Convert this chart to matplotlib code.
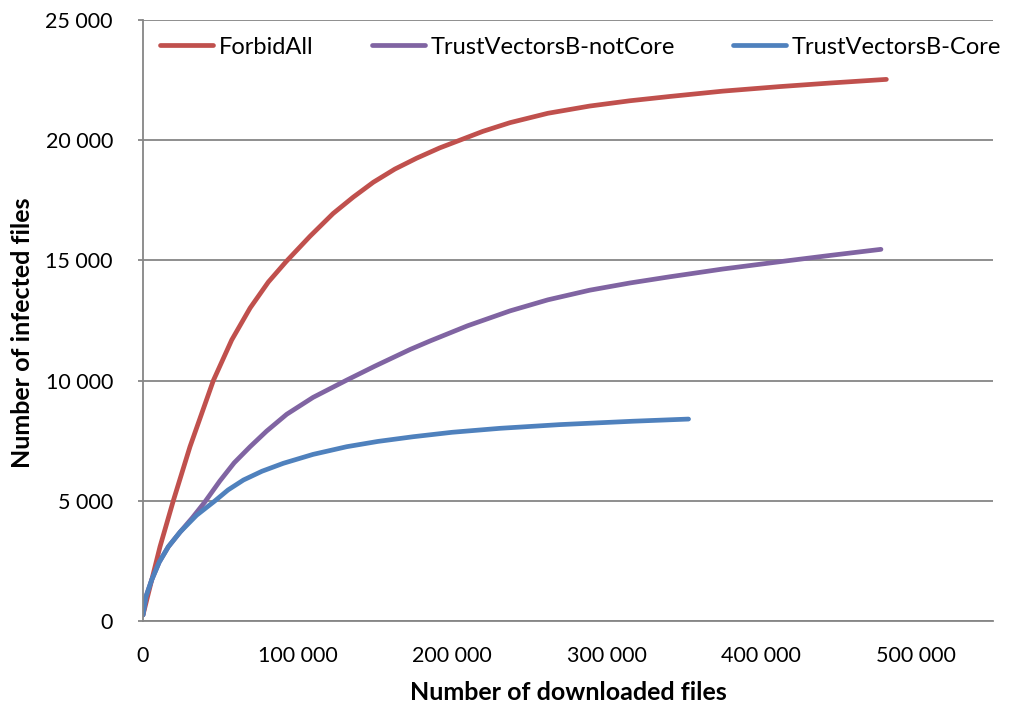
import matplotlib
matplotlib.use("Agg")
from matplotlib import pyplot as plt
from matplotlib.ticker import FuncFormatter

## data
forbid_x = [0, 11000, 19600, 30400, 45500, 57400, 69300, 81100, 92600, 108000, 123000,
            136000, 149000, 163000, 177000, 192000, 205000, 220000, 237500, 262000,
            289000, 315000, 341000, 375000, 412000, 445000, 481000]
forbid_y = [250, 3090, 5000, 7250, 10000, 11690, 13020, 14100, 14950, 16000, 16950,
            17630, 18250, 18800, 19250, 19680, 20000, 20370, 20730, 21120,
            21420, 21640, 21820, 22040, 22230, 22380, 22530]

notcore_x = [0, 1900, 5600, 10500, 16400, 24000, 32000, 40000, 49800, 59000, 69300,
             80000, 93000, 110000, 131800, 150000, 173000, 185800, 210000, 237500,
             262000, 289000, 315000, 341000, 375000, 412000, 445000, 477500]
notcore_y = [250, 1010, 1705, 2450, 3090, 3700, 4300, 4950, 5830, 6580, 7250,
             7900, 8600, 9300, 10020, 10600, 11300, 11650, 12280, 12900,
             13360, 13760, 14060, 14320, 14640, 14945, 15210, 15460]

core_x = [0, 1900, 5600, 10500, 16400, 24000, 34700, 46600, 55000, 65000, 77000,
          90800, 110000, 131800, 152000, 174800, 200000, 231000, 270000, 317000, 353000]
core_y = [250, 1010, 1705, 2450, 3090, 3700, 4400, 5000, 5450, 5865, 6230,
          6560, 6930, 7250, 7470, 7665, 7850, 8015, 8170, 8310, 8400]

series_names = ['ForbidAll', 'TrustVectorsB-notCore', 'TrustVectorsB-Core']
series_colors = ['#C0504D', '#8064A2', '#4F81BD']

x_ticks = [0, 100000, 200000, 300000, 400000, 500000]
y_ticks = [0, 5000, 10000, 15000, 20000, 25000]

plt.rcParams['font.family'] = ['Lato', 'DejaVu Sans']
grid_gray = '#868686'

fig = plt.figure(figsize=(10.12, 7.11), dpi=100)
ax = fig.add_axes([143/1012, 90/711, 850/1012, 601/711])

for xs, ys, name, col in zip([forbid_x, notcore_x, core_x],
                             [forbid_y, notcore_y, core_y],
                             series_names, series_colors):
    ax.plot(xs, ys, color=col, lw=3.4, label=name, solid_capstyle='round',
            solid_joinstyle='round')

ax.set_xlim(0, 550000)
ax.set_ylim(0, 25000)
ax.set_xticks(x_ticks)
ax.set_yticks(y_ticks)
fmt = FuncFormatter(lambda v, p: '{:,}'.format(int(v)).replace(',', ' '))
ax.xaxis.set_major_formatter(fmt)
ax.yaxis.set_major_formatter(fmt)

ax.grid(axis='y', color=grid_gray, lw=1.3)
ax.set_axisbelow(True)
for s in ['top', 'right']:
    ax.spines[s].set_visible(False)
for s in ['left', 'bottom']:
    ax.spines[s].set_color(grid_gray)
    ax.spines[s].set_linewidth(1.3)

ax.tick_params(axis='y', length=3.6, width=1.3, color=grid_gray, labelsize=15.5, pad=18)
ax.tick_params(axis='x', length=0, labelsize=15.5, pad=18)

ax.set_xlabel('Number of downloaded files', fontsize=18, fontweight='bold')
ax.set_ylabel('Number of infected files', fontsize=18, fontweight='bold')
ax.xaxis.set_label_coords(0.5, -0.1)
ax.yaxis.set_label_coords(-0.128, 0.48)

leg = ax.legend(loc='center left', bbox_to_anchor=(160/1012, 1 - 47/711),
                bbox_transform=fig.transFigure, ncol=3, frameon=False,
                fontsize=17, handlelength=2.25, handletextpad=0.25,
                columnspacing=2.45, borderaxespad=0, borderpad=0)

fig.savefig('out.png', dpi=100)
